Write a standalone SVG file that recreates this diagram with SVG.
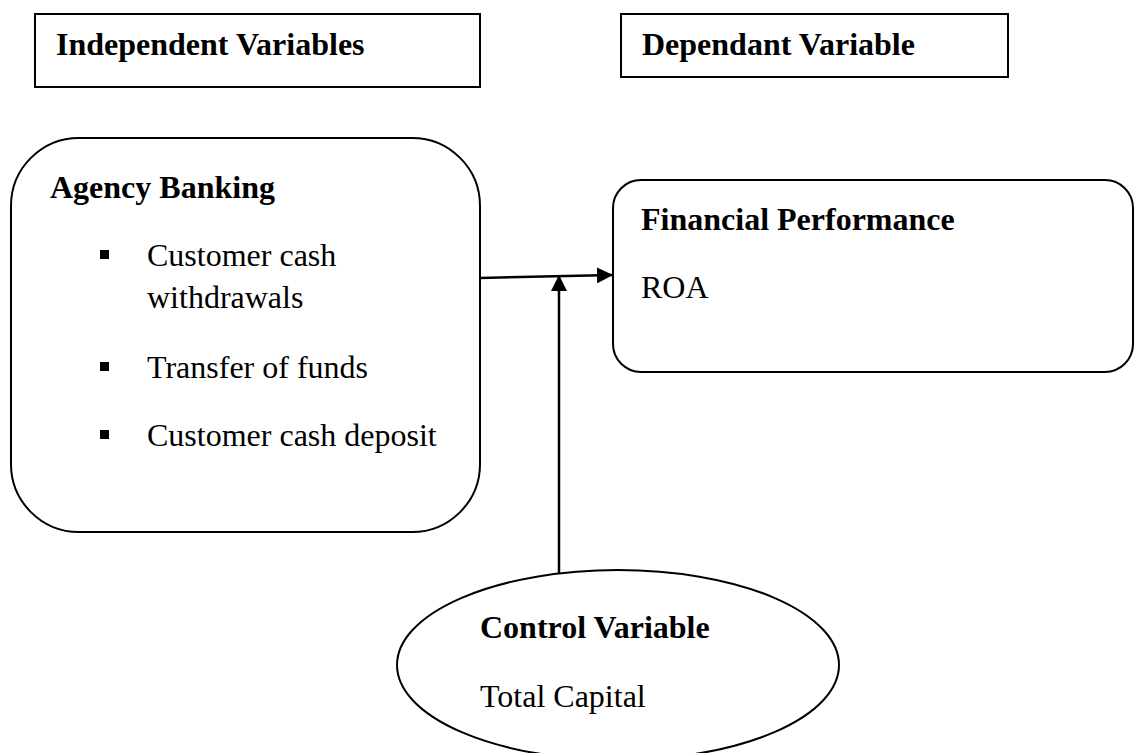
<svg xmlns="http://www.w3.org/2000/svg" width="1134" height="753" viewBox="0 0 1134 753">
<style>
.shape{fill:#fff;stroke:#000;stroke-width:2}
.t{font-family:"Liberation Serif","Times New Roman",serif;font-size:32px;fill:#000}
.b{font-weight:bold}
.conn{stroke:#000;stroke-width:2.5;fill:none}
</style>
<defs>
<marker id="ah" viewBox="0 0 16 16" refX="16" refY="8" markerWidth="16" markerHeight="16" markerUnits="userSpaceOnUse" orient="auto">
<path d="M0,0 L16,8 L0,16 Z" fill="#000"/>
</marker>
</defs>
<rect width="1134" height="753" fill="#fff"/>
<g id="independent-header">
<rect class="shape" x="35" y="14" width="445" height="73"/>
<text class="t b" x="56" y="55">Independent Variables</text>
</g>
<g id="dependent-header">
<rect class="shape" x="621" y="14" width="387" height="63"/>
<text class="t b" x="642" y="55">Dependant Variable</text>
</g>
<g id="agency-banking">
<rect class="shape" x="11" y="138" width="469" height="394" rx="68" ry="68"/>
<text class="t b" x="50" y="198">Agency Banking</text>
<rect x="100" y="250" width="9" height="9" fill="#000"/>
<text class="t" x="147" y="266">Customer cash</text>
<text class="t" x="147" y="308">withdrawals</text>
<rect x="100" y="362" width="9" height="9" fill="#000"/>
<text class="t" x="147" y="378">Transfer of funds</text>
<rect x="100" y="430" width="9" height="9" fill="#000"/>
<text class="t" x="147" y="446">Customer cash deposit</text>
</g>
<g id="financial-performance">
<rect class="shape" x="613" y="180" width="520" height="192" rx="28" ry="28"/>
<text class="t b" x="641" y="230">Financial Performance</text>
<text class="t" x="641" y="298">ROA</text>
</g>
<g id="control-variable">
<ellipse class="shape" cx="618" cy="665" rx="221" ry="95"/>
<text class="t b" x="480" y="638">Control Variable</text>
<text class="t" x="480" y="707">Total Capital</text>
</g>
<g id="connectors">
<line class="conn" x1="480" y1="278" x2="613" y2="275" marker-end="url(#ah)"/>
<line class="conn" x1="559" y1="574" x2="559" y2="275" marker-end="url(#ah)"/>
</g>
</svg>
